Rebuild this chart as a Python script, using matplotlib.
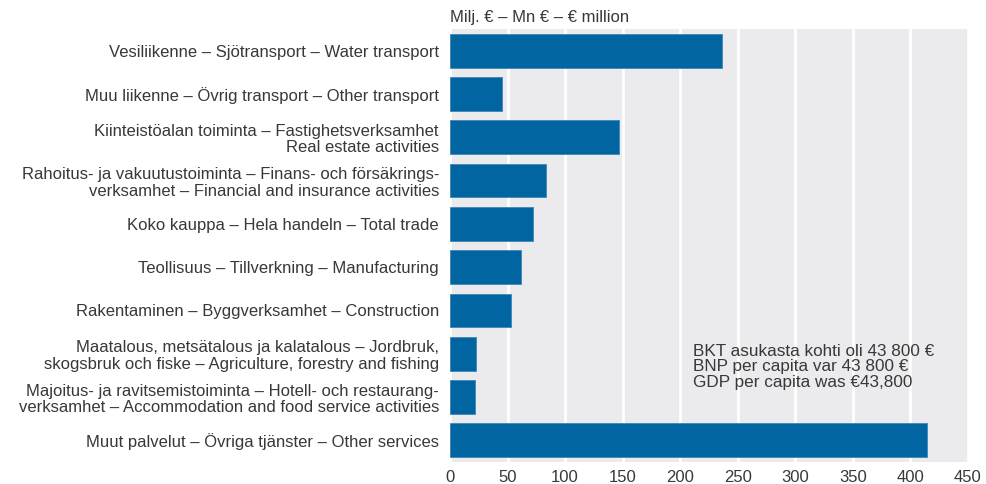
import matplotlib
matplotlib.use("Agg")
import matplotlib.pyplot as plt

plt.rcParams['font.family'] = ['Liberation Sans', 'DejaVu Sans']

# Value added by industry, million euro
industries = [
    "Vesiliikenne – Sjötransport – Water transport",
    "Muu liikenne – Övrig transport – Other transport",
    "Kiinteistöalan toiminta – Fastighetsverksamhet\nReal estate activities",
    "Rahoitus- ja vakuutustoiminta – Finans- och försäkrings-\nverksamhet – Financial and insurance activities",
    "Koko kauppa – Hela handeln – Total trade",
    "Teollisuus – Tillverkning – Manufacturing",
    "Rakentaminen – Byggverksamhet – Construction",
    "Maatalous, metsätalous ja kalatalous – Jordbruk,\nskogsbruk och fiske – Agriculture, forestry and fishing",
    "Majoitus- ja ravitsemistoiminta – Hotell- och restaurang-\nverksamhet – Accommodation and food service activities",
    "Muut palvelut – Övriga tjänster – Other services",
]
values = [236, 45, 147, 83, 72, 62, 53, 23, 22, 414]
xticks = [0, 50, 100, 150, 200, 250, 300, 350, 400, 450]

unit_label = "Milj. € – Mn € – € million"
note = "BKT asukasta kohti oli 43 800 €\nBNP per capita var 43 800 €\nGDP per capita was €43,800"

text_color = "#383838"
bar_color = "#0065a0"

fig = plt.figure(figsize=(9.86, 4.84), dpi=100)
ax = fig.add_axes([0.4564, 0.0455, 0.5253, 0.8945])
ax.set_facecolor("#ebebee")

pos = range(len(industries))
ax.barh(pos, values, height=0.78, color=bar_color, edgecolor="#3d86b8",
        linewidth=0.6, zorder=3)

ax.set_xlim(0, 450)
ax.set_ylim(9.5, -0.5)
ax.set_xticks(xticks)
ax.set_yticks(list(pos))
ax.set_yticklabels(industries, fontsize=12, color=text_color, linespacing=1.12)
ax.tick_params(axis='x', labelsize=12, labelcolor=text_color, length=0, pad=6)
ax.tick_params(axis='y', length=0, pad=8)
ax.grid(axis='x', color="white", linewidth=2, zorder=1)
for s in ax.spines.values():
    s.set_visible(False)

ax.text(0, -0.6, unit_label, fontsize=12, color=text_color,
        ha='left', va='bottom')
ax.text(211, 6.78, note, fontsize=12.3, color=text_color, ha='left', va='top',
        linespacing=1.02, zorder=4)

fig.savefig("out.png", dpi=100)
